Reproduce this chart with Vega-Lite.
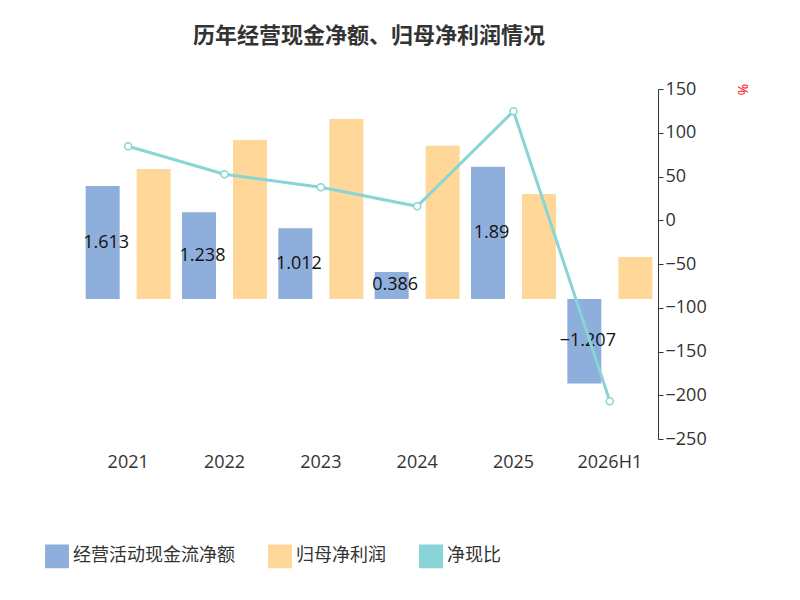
{
  "$schema": "https://vega.github.io/schema/vega-lite/v6.json",
  "width": 578,
  "height": 350,
  "padding": {"left": 45, "top": 25, "right": 5, "bottom": 5},
  "config": {"font": "Open Sans, Noto Sans CJK SC", "view": {"stroke": null}},
  "title": {"text": "历年经营现金净额、归母净利润情况", "font": "Noto Sans CJK SC", "fontSize": 22, "fontWeight": "bold", "color": "#333", "offset": 32, "anchor": "middle"},
  "data": {"values": [
    {"year": "2021", "cash": 1.613, "profit": 1.857, "ratio": 84.6},
    {"year": "2022", "cash": 1.238, "profit": 2.27, "ratio": 52.6},
    {"year": "2023", "cash": 1.012, "profit": 2.57, "ratio": 37.7},
    {"year": "2024", "cash": 0.386, "profit": 2.19, "ratio": 16},
    {"year": "2025", "cash": 1.89, "profit": 1.5, "ratio": 124.6},
    {"year": "2026H1", "cash": -1.207, "profit": 0.6, "ratio": -206.9}
  ]},
  "encoding": {
    "x": {"field": "year", "type": "nominal", "sort": null, "scale": {"paddingInner": 0.1, "paddingOuter": 0.05},
      "axis": {"labelAngle": 0, "labelFontSize": 18, "labelColor": "#333", "domain": false, "ticks": false, "labelPadding": 14,
        "title": "制图数据来自恒生聚源数据库", "titleFont": "Noto Sans CJK SC", "titleFontSize": 14, "titleColor": "#c8961e", "titleFontWeight": "normal", "titlePadding": 130}}
  },
  "layer": [
    {
      "layer": [
        {
          "transform": [{"fold": ["cash", "profit"], "as": ["k", "v"]},
            {"calculate": "datum.k == 'cash' ? '经营活动现金流净额' : '归母净利润'", "as": "series"}],
          "mark": {"type": "bar", "width": 34},
          "encoding": {
            "xOffset": {"field": "series", "type": "nominal", "sort": ["经营活动现金流净额", "归母净利润"], "scale": {"paddingInner": 0.3}},
            "y": {"field": "v", "type": "quantitative", "scale": {"domain": [-2, 3]},
              "axis": {"values": [-2, -1, 0, 1, 2, 3], "labelFontSize": 18, "labelColor": "#333", "gridColor": "#ccc", "domainColor": "#333", "tickColor": "#333",
                "title": "(亿元)", "titleFont": "Noto Sans CJK SC", "titleColor": "red", "titleFontSize": 14, "titleFontWeight": "normal", "titleAngle": -90, "titleX": -62, "titleY": 28}},
            "color": {"field": "series", "type": "nominal",
              "scale": {"domain": ["经营活动现金流净额", "归母净利润", "净现比"], "range": ["#8eaedb", "#ffd899", "#88d4d6"]},
              "legend": {"orient": "none", "legendX": -35, "legendY": 455, "direction": "horizontal", "title": null, "labelFont": "Noto Sans CJK SC", "labelFontSize": 18, "labelColor": "#333", "labelLimit": 300, "symbolType": "square", "symbolSize": 500, "columnPadding": 30}}
          }
        },
        {
          "mark": {"type": "rule", "color": "#333"},
          "encoding": {"y": {"datum": 0, "axis": null}}
        },
        {
          "transform": [{"calculate": "datum.cash / 2", "as": "mid"}],
          "mark": {"type": "text", "fontSize": 18, "color": "#111", "xOffset": -22},
          "encoding": {"y": {"field": "mid", "type": "quantitative", "axis": null}, "text": {"field": "cash", "type": "quantitative"}}
        }
      ]
    },
    {
      "mark": {"type": "line", "color": "#88d4d6", "strokeWidth": 3, "point": {"filled": true, "fill": "white", "stroke": "#88d4d6", "size": 50, "strokeWidth": 1.5}},
      "encoding": {
        "y": {"field": "ratio", "type": "quantitative", "scale": {"domain": [-250, 150]},
          "axis": {"orient": "right", "values": [-250, -200, -150, -100, -50, 0, 50, 100, 150], "grid": false, "labelFontSize": 18, "labelColor": "#333", "domainColor": "#333", "tickColor": "#333",
            "title": "%", "titleColor": "red", "titleFontSize": 14, "titleFontWeight": "normal", "titleAngle": 90, "titleX": 76, "titleY": 0}},
        "color": {"datum": "净现比"}
      }
    }
  ],
  "resolve": {"scale": {"y": "independent"}}
}
